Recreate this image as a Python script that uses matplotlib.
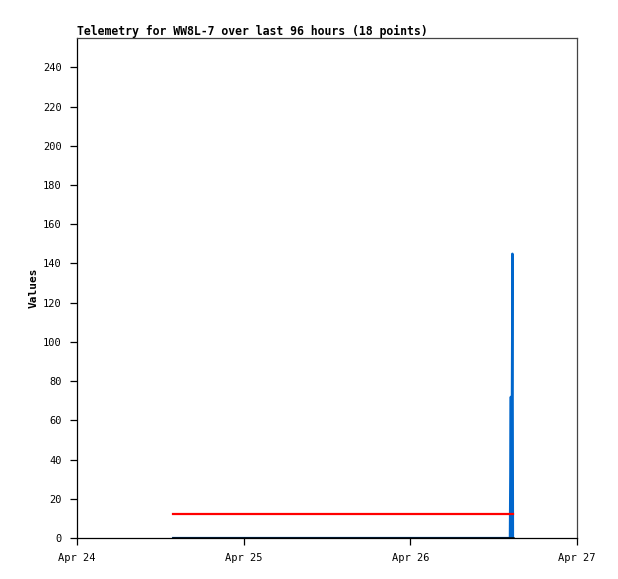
import matplotlib
matplotlib.use("Agg")
import matplotlib.pyplot as plt
import matplotlib.dates as mdates
import numpy as np
from datetime import datetime

# telemetry samples (shared timestamps)
times = ["2024-04-24 13:50", "2024-04-26 14:20", "2024-04-26 14:28",
         "2024-04-26 14:33", "2024-04-26 14:42", "2024-04-26 14:47"]
red_vals = [12, 12, 12, 12, 12, 12]
blue_vals = [0, 0, 72, 0, 145, 0]
black_vals = [0, 0, 0, 0, 0, 0]
title = "Telemetry for WW8L-7 over last 96 hours (18 points)"
ylabel = "Values"
yticks = list(range(0, 241, 20))
xticks = ["2024-04-24", "2024-04-25", "2024-04-26", "2024-04-27"]

t = [datetime.strptime(s, "%Y-%m-%d %H:%M") for s in times]

plt.rcParams['font.family'] = ['DejaVu Sans Mono']
fig = plt.figure(figsize=(6.18, 5.79), dpi=100)
ax = fig.add_axes([77/618, 41/579, 500/618, 500/579])

ax.plot(t, blue_vals, color="#0066cc", lw=1.6, zorder=2)
ax.plot(t, red_vals, color="#ff0000", lw=1.6, zorder=3)
ax.plot(t, black_vals, color="#000000", lw=1.8, zorder=4)

xt = [datetime.strptime(s, "%Y-%m-%d") for s in xticks]
ax.set_xlim(xt[0], xt[-1])
ax.set_xticks(xt)
ax.xaxis.set_major_formatter(mdates.DateFormatter("%b %d"))
ax.set_ylim(0, 255)
ax.set_yticks(yticks)

ax.tick_params(axis="both", labelsize=7.5, length=5, width=0.9, direction="out", pad=6)
for side in ("top", "right"):
    ax.spines[side].set_color("#444444")
    ax.spines[side].set_linewidth(0.9)
for side in ("left", "bottom"):
    ax.spines[side].set_color("black")
    ax.spines[side].set_linewidth(0.9)

ax.set_ylabel(ylabel, fontsize=8, fontweight="bold", labelpad=3)
fig.text(77/618, 1 - 31/579, title, fontsize=8.3, fontweight="bold", ha="left", va="center")

fig.savefig("out.png", dpi=100)
